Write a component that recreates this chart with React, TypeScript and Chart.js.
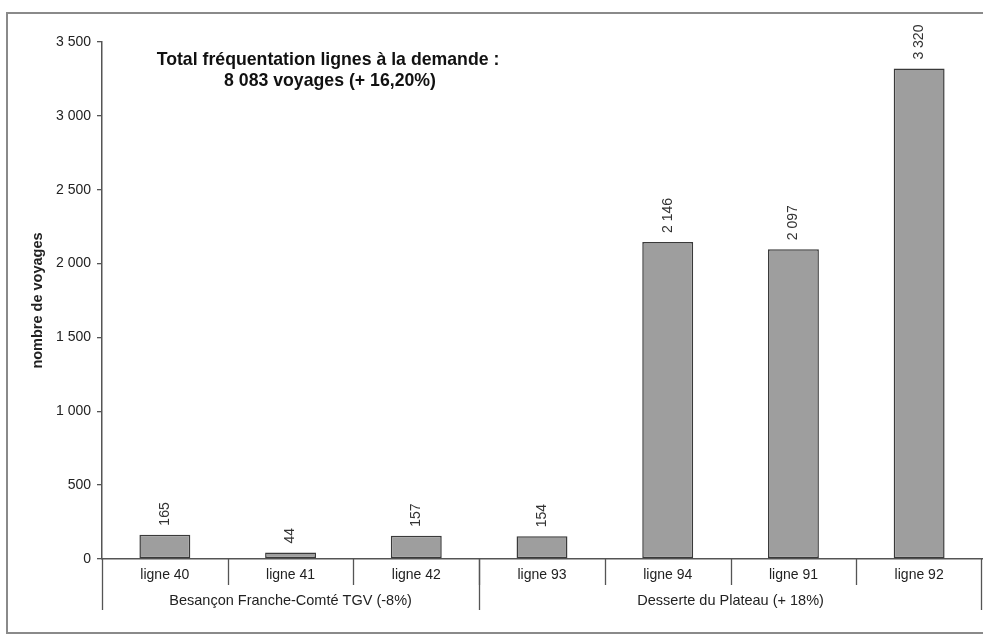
import React, { useEffect, useRef } from "react";
import { Chart, registerables } from "chart.js";

Chart.register(...registerables);

const categories = ["ligne 40", "ligne 41", "ligne 42", "ligne 93", "ligne 94", "ligne 91", "ligne 92"];
const voyages = [165, 44, 157, 154, 2146, 2097, 3320];
const groupNames = ["Besançon Franche-Comté TGV (-8%)", "Desserte du Plateau (+ 18%)"];
const groupSizes = [3, 4];
const titleLines = ["Total fréquentation lignes à la demande :", "8 083 voyages (+ 16,20%)"];
const yAxisTitle = "nombre de voyages";
const yMin = 0;
const yMax = 3500;
const yStep = 500;

const FONT = "'Liberation Sans', Arial, sans-serif";

function fmt(v: number): string {
  return String(v).replace(/\B(?=(\d{3})+(?!\d))/g, " ");
}

const decorPlugin = {
  id: "decor",
  beforeDraw(chart: any) {
    const ctx = chart.ctx;
    ctx.save();
    ctx.strokeStyle = "#8a8a8a";
    ctx.lineWidth = 2;
    ctx.beginPath();
    ctx.moveTo(983, 13);
    ctx.lineTo(7, 13);
    ctx.lineTo(7, 633);
    ctx.lineTo(983, 633);
    ctx.stroke();
    ctx.restore();
  },
  afterDraw(chart: any) {
    const ctx = chart.ctx;
    const xs = chart.scales.x;
    const area = chart.chartArea;
    const n = categories.length;
    const bound = (i: number) => {
      if (i <= 0) return area.left;
      if (i >= n) return area.right;
      return (xs.getPixelForValue(i - 1) + xs.getPixelForValue(i)) / 2;
    };
    ctx.save();
    ctx.strokeStyle = "#555";
    ctx.lineWidth = 1.3;
    for (let i = 1; i < n; i++) {
      const x = Math.round(bound(i)) + 0.5;
      ctx.beginPath();
      ctx.moveTo(x, area.bottom);
      ctx.lineTo(x, area.bottom + 26);
      ctx.stroke();
    }
    let start = 0;
    const edges = [0];
    groupSizes.forEach((s) => {
      start += s;
      edges.push(start);
    });
    edges.forEach((e) => {
      const x = Math.round(bound(e)) + (e === n ? -0.5 : 0.5);
      ctx.beginPath();
      ctx.moveTo(x, area.bottom);
      ctx.lineTo(x, area.bottom + 51);
      ctx.stroke();
    });
    ctx.fillStyle = "#222";
    ctx.font = `14.5px ${FONT}`;
    ctx.textAlign = "center";
    ctx.textBaseline = "middle";
    for (let g = 0; g < groupNames.length; g++) {
      const cx = (bound(edges[g]) + bound(edges[g + 1])) / 2;
      ctx.fillText(groupNames[g], cx, area.bottom + 42);
    }
    const meta = chart.getDatasetMeta(0);
    ctx.font = `14px ${FONT}`;
    ctx.textAlign = "left";
    ctx.fillStyle = "#333";
    meta.data.forEach((bar: any, i: number) => {
      ctx.save();
      ctx.translate(bar.x, bar.y - 9);
      ctx.rotate(-Math.PI / 2);
      ctx.fillText(fmt(voyages[i]), 0, 0);
      ctx.restore();
    });
    ctx.fillStyle = "#111";
    ctx.font = `bold 17.7px ${FONT}`;
    ctx.textAlign = "center";
    ctx.fillText(titleLines[0], 328, 60);
    ctx.fillText(titleLines[1], 330, 81);
    ctx.restore();
  },
};

export default function App() {
  const ref = useRef<HTMLCanvasElement | null>(null);
  useEffect(() => {
    if (!ref.current) return;
    const chart = new Chart(ref.current, {
      type: "bar",
      data: {
        labels: categories,
        datasets: [
          {
            data: voyages,
            backgroundColor: "#9e9e9e",
            borderColor: "#3a3a3a",
            borderWidth: 1.5,
            borderSkipped: false,
            categoryPercentage: 1,
            barPercentage: 0.405,
          },
        ],
      },
      options: {
        animation: false,
        responsive: false,
        maintainAspectRatio: false,
        layout: { padding: { left: 7, top: 42, right: 1, bottom: 0 } },
        plugins: { legend: { display: false }, tooltip: { enabled: false }, title: { display: false } },
        scales: {
          x: {
            afterFit: (s: any) => {
              s.height = 77;
            },
            grid: { display: true, drawOnChartArea: false, drawTicks: false },
            border: { display: true, color: "#555", width: 1.5 },
            ticks: { color: "#222", font: { family: FONT, size: 14 }, padding: 8, maxRotation: 0, autoSkip: false },
          },
          y: {
            min: yMin,
            max: yMax,
            afterFit: (s: any) => {
              s.width = 95;
            },
            grid: { display: true, drawOnChartArea: false, drawTicks: true, tickLength: 5, color: "#555", lineWidth: 1.3 },
            border: { display: true, color: "#555", width: 1.5 },
            ticks: {
              stepSize: yStep,
              padding: 6,
              color: "#222",
              font: { family: FONT, size: 14 },
              callback: (v: any) => fmt(Number(v)),
            },
            title: {
              display: true,
              text: yAxisTitle,
              color: "#222",
              font: { family: FONT, size: 14.5, weight: "bold" },
              padding: { top: 22, bottom: 0 },
            },
          },
        },
      },
      plugins: [decorPlugin],
    });
    return () => chart.destroy();
  }, []);
  return (
    <div style={{ position: "fixed", left: 0, top: 0, width: 983, height: 636, background: "#fff" }}>
      <canvas ref={ref} width={983} height={636} style={{ width: 983, height: 636, display: "block" }} />
    </div>
  );
}
